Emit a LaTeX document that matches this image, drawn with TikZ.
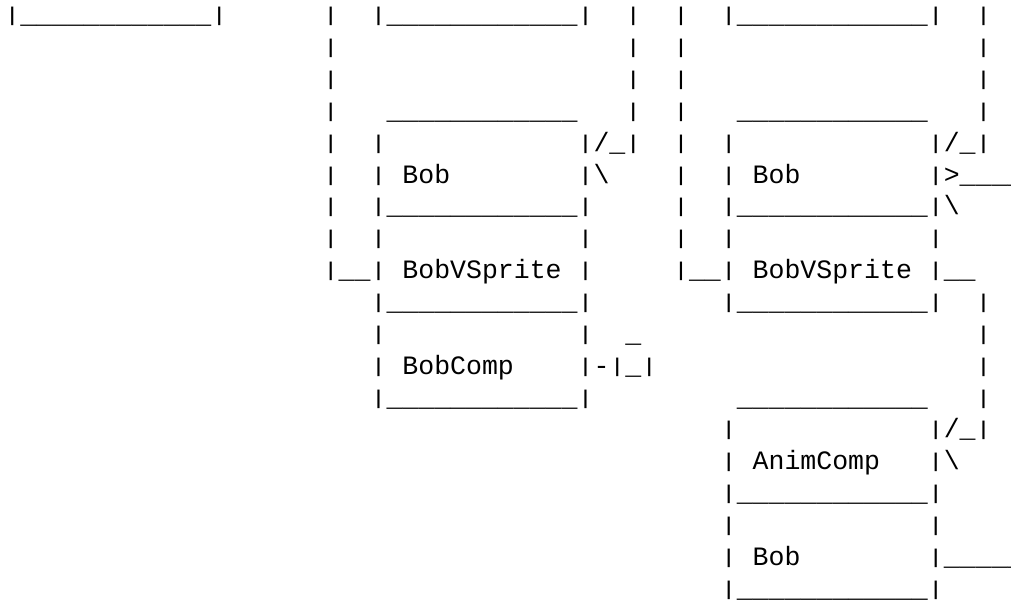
\documentclass[tikz,border=0pt]{standalone}
\usepackage{fontspec}
\usepackage{graphicx}
\usepackage{tikz}
\usetikzlibrary{positioning}
\newfontfamily\asciifont{Liberation Mono}
% one character cell = 15.92px of the picture (0.6em)
\ExplSyntaxOn
\NewDocumentCommand\spc{m}{\prg_replicate:nn{#1}{\phantom{x}}}
\NewDocumentCommand\usc{m}{\prg_replicate:nn{#1}{\_}}
\ExplSyntaxOff
% shorter bar, so that stacked rows keep a gap
\newcommand\vb{\raisebox{1.5pt}{\scalebox{1}[0.75]{|}}}
\tikzset{
  asciirow/.style={font=\asciifont\fontsize{19.9}{19.9}\selectfont, inner sep=0pt, anchor=base west}
}

\begin{document}
\begin{tikzpicture}[x=0.75pt, y=-0.75pt]
  \useasboundingbox (0,0) rectangle (1011,601);
  \node[asciirow] (row0) at (4.1,23.8) {\vb\usc{12}\vb\spc{6}\vb\spc{2}\vb\usc{12}\vb\spc{2}\vb\spc{2}\vb\spc{2}\vb\usc{12}\vb\spc{2}\vb};
  \node[asciirow] (row1) at (4.1,55.65) {\spc{20}\vb\spc{18}\vb\spc{2}\vb\spc{18}\vb};
  \node[asciirow] (row2) at (4.1,87.5) {\spc{20}\vb\spc{18}\vb\spc{2}\vb\spc{18}\vb};
  \node[asciirow] (row3) at (4.1,119.35) {\spc{20}\vb\spc{3}\usc{12}\spc{3}\vb\spc{2}\vb\spc{3}\usc{12}\spc{3}\vb};
  \node[asciirow] (row4) at (4.1,151.2) {\spc{20}\vb\spc{2}\vb\spc{12}\vb/\_\vb\spc{2}\vb\spc{2}\vb\spc{12}\vb/\_\vb};
  \node[asciirow] (row5) at (4.1,183.05) {\spc{20}\vb\spc{2}\vb\spc{1}Bob\spc{8}\vb\textbackslash\spc{4}\vb\spc{2}\vb\spc{1}Bob\spc{8}\vb>\usc{4}};
  \node[asciirow] (row6) at (4.1,214.9) {\spc{20}\vb\spc{2}\vb\usc{12}\vb\spc{5}\vb\spc{2}\vb\usc{12}\vb\textbackslash};
  \node[asciirow] (row7) at (4.1,246.75) {\spc{20}\vb\spc{2}\vb\spc{12}\vb\spc{5}\vb\spc{2}\vb\spc{12}\vb};
  \node[asciirow] (row8) at (4.1,278.6) {\spc{20}\vb\usc{2}\vb\spc{1}BobVSprite\spc{1}\vb\spc{5}\vb\usc{2}\vb\spc{1}BobVSprite\spc{1}\vb\usc{2}};
  \node[asciirow] (row9) at (4.1,310.45) {\spc{23}\vb\usc{12}\vb\spc{8}\vb\usc{12}\vb\spc{2}\vb};
  \node[asciirow] (row10) at (4.1,342.3) {\spc{23}\vb\spc{12}\vb\spc{2}\_\spc{21}\vb};
  \node[asciirow] (row11) at (4.1,374.15) {\spc{23}\vb\spc{1}BobComp\spc{4}\vb-\vb\_\vb\spc{20}\vb};
  \node[asciirow] (row12) at (4.1,406.0) {\spc{23}\vb\usc{12}\vb\spc{9}\usc{12}\spc{3}\vb};
  \node[asciirow] (row13) at (4.1,437.85) {\spc{45}\vb\spc{12}\vb/\_\vb};
  \node[asciirow] (row14) at (4.1,469.7) {\spc{45}\vb\spc{1}AnimComp\spc{3}\vb\textbackslash};
  \node[asciirow] (row15) at (4.1,501.55) {\spc{45}\vb\usc{12}\vb};
  \node[asciirow] (row16) at (4.1,533.4) {\spc{45}\vb\spc{12}\vb};
  \node[asciirow] (row17) at (4.1,565.25) {\spc{45}\vb\spc{1}Bob\spc{8}\vb\usc{5}};
  \node[asciirow] (row18) at (4.1,597.1) {\spc{45}\vb\usc{12}\vb};
\end{tikzpicture}
\end{document}
